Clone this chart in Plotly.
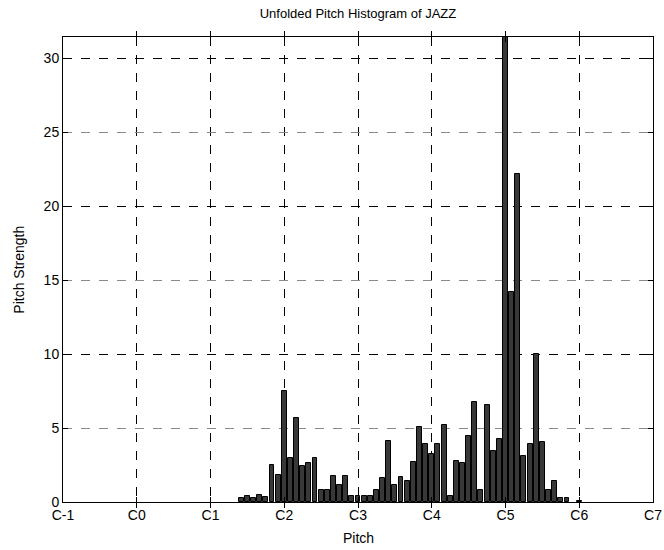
import plotly.graph_objects as go

# MIDI pitch numbers (C-1 = 0) and their strengths
pitches = list(range(29, 83)) + [84]
strengths = [0.30, 0.40, 0.30, 0.47, 0.32, 2.52, 1.80, 7.48, 3.00, 5.65,
             2.41, 2.61, 2.95, 0.83, 0.83, 1.78, 1.13, 1.78, 0.41, 0.41,
             0.41, 0.41, 0.83, 1.60, 4.10, 1.15, 1.69, 1.42, 2.70, 5.07,
             3.90, 3.27, 3.90, 5.18, 0.41, 2.77, 2.61, 4.44, 6.76, 0.83,
             6.53, 3.42, 4.26, 31.45, 14.20, 22.20, 3.13, 3.90, 10.02, 4.08,
             0.83, 1.42, 0.30, 0.30, 0.10]

tick_vals = [0, 12, 24, 36, 48, 60, 72, 84, 96]
tick_text = ["C-1", "C0", "C1", "C2", "C3", "C4", "C5", "C6", "C7"]
y_ticks = [0, 5, 10, 15, 20, 25, 30]
y_dark_grid = [10, 20, 30]
y_max = 31.45

fig = go.Figure()
fig.add_trace(go.Bar(
    x=pitches, y=strengths, width=0.8,
    marker=dict(color="#383838", line=dict(color="black", width=1)),
))
# invisible helper trace so the dark-grid overlay axis is drawn
fig.add_trace(go.Scatter(x=[0], y=[0], yaxis="y2", mode="markers",
                         marker=dict(opacity=0), hoverinfo="skip"))

font = dict(family="Liberation Sans, Arial, sans-serif", size=14, color="black")

fig.update_layout(
    width=664, height=550,
    margin=dict(l=63, r=11, t=37, b=48, autoexpand=False),
    plot_bgcolor="white", paper_bgcolor="white",
    font=font,
    showlegend=False,
    bargap=0,
    title=dict(text="Unfolded Pitch Histogram of JAZZ", x=0.5, xref="paper",
               xanchor="center", y=1 - 13 / 550, yref="container",
               yanchor="middle", font=dict(size=13)),
    xaxis=dict(range=[0, 96], tickvals=tick_vals, ticktext=tick_text,
               automargin=False,
               showgrid=True, gridcolor="black", gridwidth=1, griddash="dash",
               showline=True, linecolor="black", linewidth=1, mirror="allticks",
               ticks="inside", ticklen=5, tickcolor="black", zeroline=False,
               tickfont=font),
    yaxis=dict(range=[0, y_max], tickvals=y_ticks, automargin=False,
               showgrid=True, gridcolor="#8a8a8a", gridwidth=1, griddash="dash",
               showline=True, linecolor="black", linewidth=1, mirror="allticks",
               ticks="inside", ticklen=5, tickcolor="black", zeroline=False,
               tickfont=font),
    yaxis2=dict(range=[0, y_max], overlaying="y", tickvals=y_dark_grid,
                showticklabels=False, automargin=False,
                showgrid=True, gridcolor="black", gridwidth=1, griddash="dash",
                showline=False, ticks="", zeroline=False),
    annotations=[
        dict(text="Pitch", xref="paper", yref="paper", x=0.5, y=-0.077,
             xanchor="center", yanchor="middle", showarrow=False, font=font),
        dict(text="Pitch Strength", xref="paper", yref="paper", x=-0.076, y=0.5,
             xanchor="center", yanchor="middle", textangle=-90, showarrow=False,
             font=font),
    ],
)

fig.write_html("out.html")
